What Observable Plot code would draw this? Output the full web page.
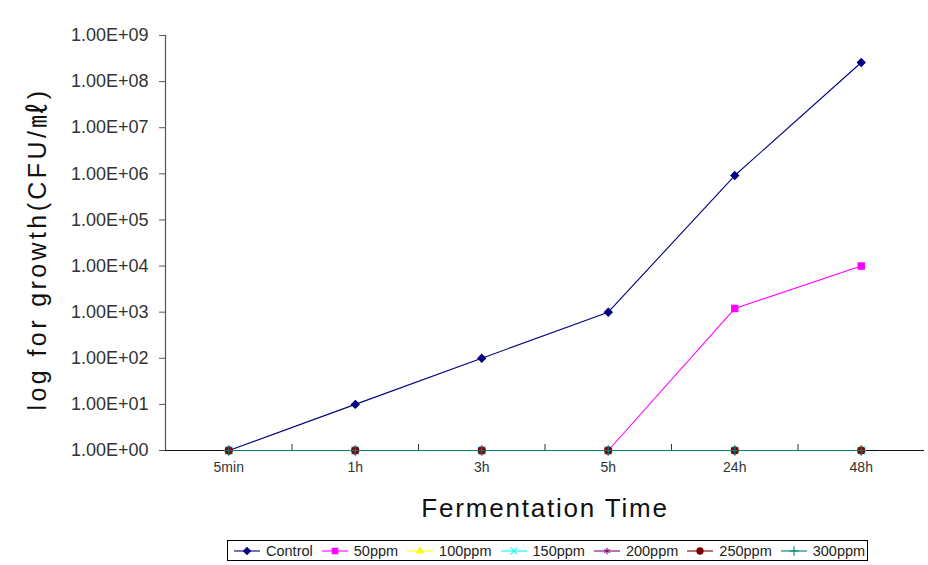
<!DOCTYPE html>
<html>
<head>
<meta charset="utf-8">
<script src="https://cdn.jsdelivr.net/npm/d3@7"></script>
<script src="https://cdn.jsdelivr.net/npm/@observablehq/plot@0.6"></script>
<style>
  html, body { margin: 0; padding: 0; background: #fff; }
  body { width: 928px; height: 565px; overflow: hidden; font-family: "Liberation Sans", Arial, sans-serif; }
  #chart svg { display: block; }
  #legend {
    position: absolute; left: 227px; top: 540px; width: 641px; height: 21px;
    border: 1px solid #000; display: flex; align-items: center; justify-content: flex-start;
    padding-left: 5px; font-size: 14.5px; color: #222; box-sizing: border-box;
  }
  #legend .item { display: flex; align-items: center; margin-right: 8px; }
  #legend svg { display: block; margin-right: 5px; }
</style>
</head>
<body>
<div id="chart"></div>
<div id="legend"></div>
<script>
// Sampling times along the fermentation
const times = ["5min", "1h", "3h", "5h", "24h", "48h"];

// Treatments and their drawing styles
const series = ["Control", "50ppm", "100ppm", "150ppm", "200ppm", "250ppm", "300ppm"];
const colors = ["#000080", "#ff00ff", "#ffff00", "#00ffff", "#800080", "#800000", "#008080"];
const symbols = ["diamond2", "square", "triangle2", "times", "asterisk", "circle", "plus"];

// Viable counts (CFU/mL) for each treatment
const control = [1, 10, 100, 1000, 9.2e5, 2.6e8];
const ppm50   = [1, 1, 1, 1, 1.2e3, 1.0e4];
const ppm100  = [1, 1, 1, 1, 1, 1];
const ppm150  = [1, 1, 1, 1, 1, 1];
const ppm200  = [1, 1, 1, 1, 1, 1];
const ppm250  = [1, 1, 1, 1, 1, 1];
const ppm300  = [1, 1, 1, 1, 1, 1];

// Decade ticks of the count axis
const yTicks = [1e0, 1e1, 1e2, 1e3, 1e4, 1e5, 1e6, 1e7, 1e8, 1e9];

const yTitle = "log for growth(CFU/㎖)";
const xTitle = "Fermentation Time";

const valuesBySeries = [control, ppm50, ppm100, ppm150, ppm200, ppm250, ppm300];
const rows = series.flatMap((s, k) =>
  valuesBySeries[k].map((v, i) => ({series: s, t: i + 0.5, time: times[i], count: v}))
);

const sciFormat = (d) => {
  const e = Math.round(Math.log10(d));
  return "1.00E+" + String(e).padStart(2, "0");
};

const font = "'Liberation Sans', Arial, sans-serif";

const chart = Plot.plot({
  width: 928,
  height: 532,
  marginTop: 35,
  marginBottom: 82,
  marginLeft: 165,
  marginRight: 4,
  style: {fontFamily: font, color: "#333", background: "#fff"},
  x: {domain: [0, times.length], axis: null},
  y: {type: "log", domain: [1, 1e9], axis: null},
  color: {domain: series, range: colors},
  symbol: {domain: series, range: symbols},
  marks: [
    // frame lines of the axes
    Plot.ruleX([0], {stroke: "#555", strokeWidth: 1.2}),
    Plot.ruleY([1], {stroke: "#111", strokeWidth: 1.2}),
    // count axis
    Plot.axisY({
      ticks: yTicks, tickFormat: sciFormat, tickSize: 6, tickPadding: 11,
      fontSize: 18, stroke: "#555", label: null
    }),
    Plot.text([yTitle], {
      frameAnchor: "left", textAnchor: "middle", dx: -128, dy: 6, rotate: -90, fontSize: 25,
      fontFamily: "'Liberation Sans', 'Noto Sans CJK KR', sans-serif", fill: "#111"
    }),
    // time axis: category labels centred in each slot, ticks on slot boundaries
    Plot.axisX({
      ticks: times.map((_, i) => i + 0.5), tickFormat: (d) => times[Math.round(d - 0.5)],
      tickSize: 0, tickPadding: 12, fontSize: 14, label: null
    }),
    Plot.axisX({
      ticks: d3.range(1, times.length), tickFormat: () => "", tickSize: 6, dy: -6,
      stroke: "#333", label: null
    }),
    Plot.text([xTitle], {
      frameAnchor: "bottom", dy: 66, fontSize: 26, fill: "#111"
    }),
    // treatment lines and markers
    Plot.line(rows, {x: "t", y: "count", z: "series", stroke: "series", strokeWidth: 1.1}),
    Plot.dot(rows, {x: "t", y: "count", symbol: "series", fill: "series", stroke: "series", r: 3.5, strokeWidth: 1.2})
  ]
});

// The axis titles are set with open letter spacing
d3.select(chart).selectAll("text")
  .filter(function () { return this.textContent === yTitle; })
  .style("letter-spacing", "3.4px");
d3.select(chart).selectAll("text")
  .filter(function () { return this.textContent === xTitle; })
  .style("letter-spacing", "1.8px");

document.getElementById("chart").appendChild(chart);

// Legend: short line with the series marker, then its name
const legend = d3.select("#legend");
series.forEach((s, k) => {
  const item = legend.append("div").attr("class", "item");
  const svg = item.append("svg").attr("width", 28).attr("height", 12);
  svg.append("line").attr("x1", 1).attr("x2", 27).attr("y1", 6).attr("y2", 6)
    .attr("stroke", colors[k]).attr("stroke-width", 1.1);
  const sym = {
    diamond2: d3.symbolDiamond2, square: d3.symbolSquare, triangle2: d3.symbolTriangle2,
    times: d3.symbolTimes, asterisk: d3.symbolAsterisk, circle: d3.symbolCircle, plus: d3.symbolPlus
  }[symbols[k]];
  svg.append("path").attr("transform", "translate(14,6)")
    .attr("d", d3.symbol(sym, 30)())
    .attr("fill", colors[k]).attr("stroke", colors[k]).attr("stroke-width", 1.1);
  item.append("span").text(s);
});
</script>
</body>
</html>
